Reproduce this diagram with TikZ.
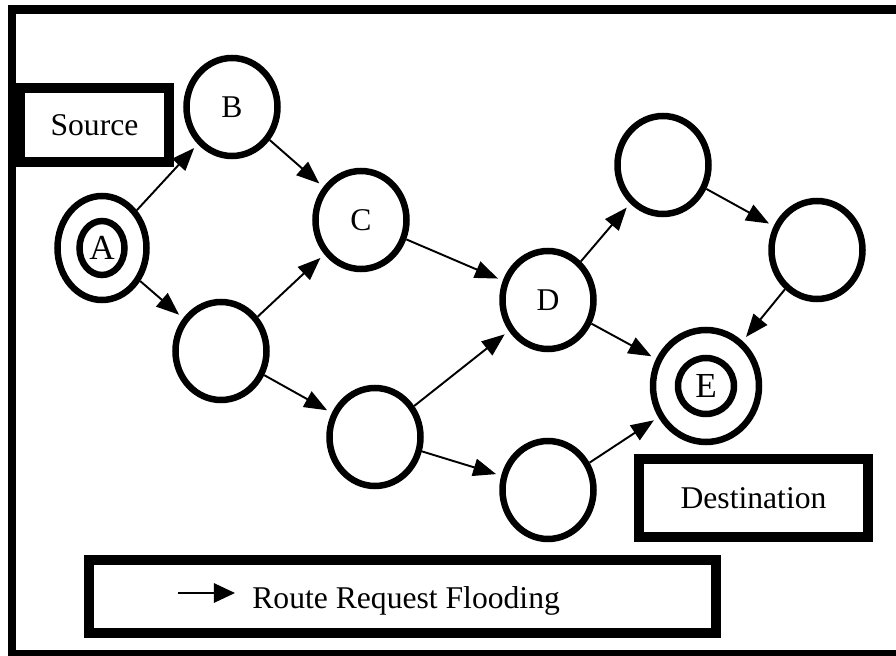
\documentclass[tikz,border=0pt]{standalone}
\usepackage{fontspec}
\setmainfont{Liberation Serif}
\usepackage{tikz}
\usetikzlibrary{positioning}
\usetikzlibrary{arrows,arrows.meta}
\usetikzlibrary{shapes}
\tikzset{hop/.style={ % a node of the network
			ellipse,
			draw,
			line width=3.7pt,
			inner sep=0pt,
			minimum width=1.82cm,
			minimum height=1.96cm,
			font=\fontsize{18}{20}\selectfont},
		tagbox/.style={ % the text boxes
			rectangle,
			draw,
			line width=5.7pt,
			inner sep=0pt,
			font=\fontsize{18}{20}\selectfont},
		flood/.style={ % route request arrows
			-{Triangle[length=13pt,width=10pt]},
			line width=1.1pt,
			shorten >=3pt}}

\begin{document}
\begin{tikzpicture}
			\useasboundingbox (0,0) rectangle (17.92,13.1);
			\clip (0,0) rectangle (17.92,13.1);
			\draw[line width=5.1pt] (0.24,0.02) rectangle (18.4,12.91);
			
			% source and destination (double rings)
			\node[hop, minimum width=1.78cm, minimum height=2.08cm] (A) at (2.04,8.14) {};
			\node[hop, minimum width=0.9cm, minimum height=1.08cm, font=\fontsize{20}{22}\selectfont] (Ain) at (A.center) {A};
			\node[hop, minimum width=2.12cm, minimum height=2.24cm] (E) at (14.12,5.38) {};
			\node[hop, minimum width=1.12cm, minimum height=1.12cm, font=\fontsize{20}{22}\selectfont] (Ein) at (E.center) {E};
			
			\node[hop] (B) at (4.64,10.96) {B};
			\node[hop] (C) at (7.22,8.70) {C};
			\node[hop] (D) at (10.96,7.10) {D};
			\node[hop] (N1) at (4.42,6.08) {};
			\node[hop] (N2) at (7.50,4.36) {};
			\node[hop] (N3) at (10.96,3.30) {};
			\node[hop] (N4) at (13.26,9.80) {};
			\node[hop] (N5) at (16.34,8.10) {};
			
			\node[tagbox, minimum width=2.98cm, minimum height=1.47cm] (src) at (1.89,10.60) {Source};
			\node[tagbox, minimum width=4.58cm, minimum height=1.56cm] (dst) at (15.07,3.14) {Destination};
			\node[tagbox, minimum width=12.54cm, minimum height=1.47cm] (leg) at (8.05,1.17) {};
			
			\draw[flood] (A) -- (B);
			\draw[flood] (A) -- (N1);
			\draw[flood] (B) -- (C);
			\draw[flood] (N1) -- (C);
			\draw[flood] (N1) -- (N2);
			\draw[flood] (C) -- (D);
			\draw[flood] (N2) -- (D);
			\draw[flood] (N2) -- (N3);
			\draw[flood] (D) -- (N4);
			\draw[flood] (D) -- (E);
			\draw[flood] (N4) -- (N5);
			\draw[flood] (N5) -- (E);
			\draw[flood] (N3) -- (E);
			
			% legend
			\coordinate (legS) at (3.56,1.24);
			\coordinate (legE) at (4.70,1.24);
			\draw[flood, shorten >=0pt, -{Triangle[length=12pt,width=11pt]}] (legS) -- (legE);
			\node[anchor=base west, inner sep=0pt, font=\fontsize{18}{20}\selectfont] (legT) at (5.04,0.94) {Route Request Flooding};
		\end{tikzpicture}
\end{document}
